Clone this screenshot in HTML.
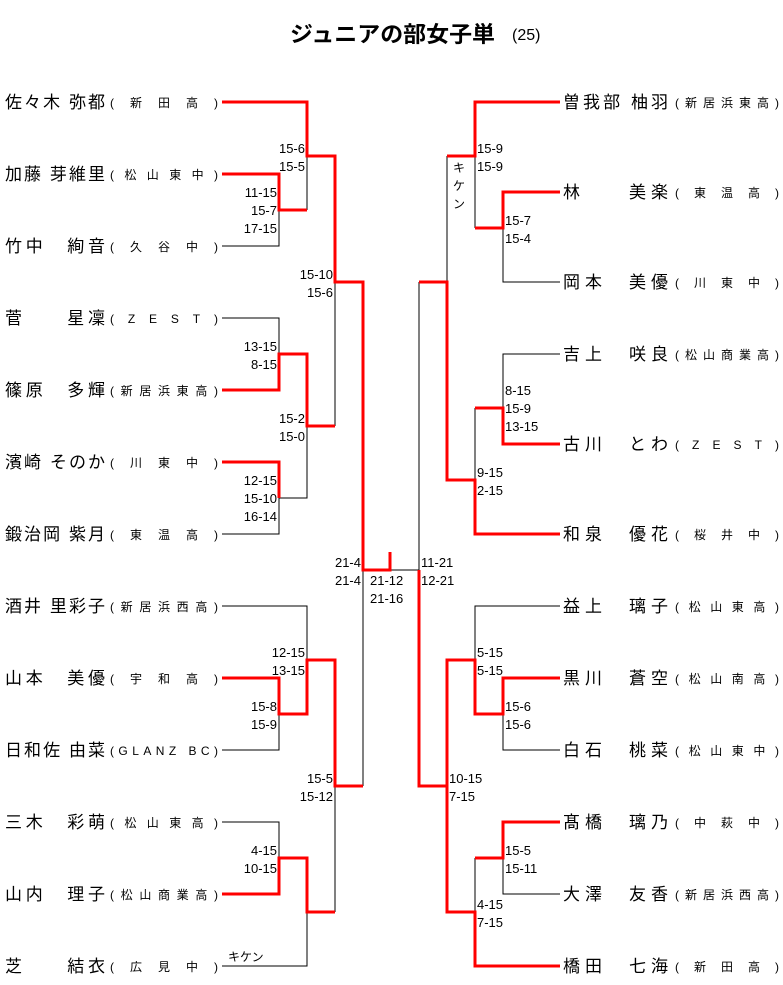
<!DOCTYPE html>
<html><head><meta charset="utf-8"><style>
html,body{margin:0;padding:0;background:#fff;}
svg{display:block;}
text{font-family:"Liberation Sans","Noto Sans CJK JP",sans-serif;fill:#000;}
.n{font-size:17px;}
.s{font-size:12px;}
.sc{font-size:13px;}
</style></head><body>
<svg width="783" height="985" viewBox="0 0 783 985" xmlns="http://www.w3.org/2000/svg">
<text x="290" y="42" style="font-size:22px;font-weight:bold" textLength="205" lengthAdjust="spacingAndGlyphs">ジュニアの部女子単</text>
<text x="512" y="40" style="font-size:16px">(25)</text>

<g fill="none" stroke="#000" stroke-width="1">
<path d="M222 246H279V210"/>
<path d="M307 156V210"/>
<path d="M222 318H279V354"/>
<path d="M222 534H279V498H307V426"/>
<path d="M335 282V426"/>
<path d="M222 606H307V660"/>
<path d="M222 750H279V714"/>
<path d="M222 822H279V858"/>
<path d="M222 966H307V912"/>
<path d="M335 786V912"/>
<path d="M363 570V786"/>
<path d="M390 570H419V282"/>
<path d="M475 156V228"/>
<path d="M560 282H503V228"/>
<path d="M447 156V282"/>
<path d="M560 354H503V408"/>
<path d="M475 408V480"/>
<path d="M560 606H475V660"/>
<path d="M560 750H503V714"/>
<path d="M560 894H503V858"/>
<path d="M475 858V912"/>
<path d="M447 786V912"/>
</g>
<g fill="none" stroke="#f00" stroke-width="3">
<path d="M222 102H307V156H335V282H363V570H390V552"/>
<path d="M222 174H279V210H307"/>
<path d="M222 390H279V354H307V426H335"/>
<path d="M222 462H279V498"/>
<path d="M222 678H279V714H307V660H335V786H363"/>
<path d="M222 894H279V858H307V912H335"/>
<path d="M560 102H475V156H447"/>
<path d="M560 192H503V228H475"/>
<path d="M419 282H447V480H475V534H560"/>
<path d="M560 444H503V408H475"/>
<path d="M419 570V786H447V660H475V714H503V678H560"/>
<path d="M560 822H503V858H475"/>
<path d="M447 786V912H475V966H560"/>
</g>

<g class="n">
<text x="5" y="108" textLength="100" lengthAdjust="spacing">佐々木 弥都</text>
<text x="5" y="180" textLength="100" lengthAdjust="spacing">加藤 芽維里</text>
<text x="5" y="252" textLength="100" lengthAdjust="spacing">竹中　絢音</text>
<text x="5" y="324" textLength="100" lengthAdjust="spacing">菅　　星凜</text>
<text x="5" y="396" textLength="100" lengthAdjust="spacing">篠原　多輝</text>
<text x="5" y="468" textLength="100" lengthAdjust="spacing">濱崎 そのか</text>
<text x="5" y="540" textLength="100" lengthAdjust="spacing">鍛治岡 紫月</text>
<text x="5" y="612" textLength="100" lengthAdjust="spacing">酒井 里彩子</text>
<text x="5" y="684" textLength="100" lengthAdjust="spacing">山本　美優</text>
<text x="5" y="756" textLength="100" lengthAdjust="spacing">日和佐 由菜</text>
<text x="5" y="828" textLength="100" lengthAdjust="spacing">三木　彩萌</text>
<text x="5" y="900" textLength="100" lengthAdjust="spacing">山内　理子</text>
<text x="5" y="972" textLength="100" lengthAdjust="spacing">芝　　結衣</text>
</g>
<g class="s">
<text x="110" y="107" textLength="108" lengthAdjust="spacing">(新田高)</text>
<text x="110" y="179" textLength="108" lengthAdjust="spacing">(松山東中)</text>
<text x="110" y="251" textLength="108" lengthAdjust="spacing">(久谷中)</text>
<text x="110" y="323" textLength="108" lengthAdjust="spacing">(ZEST)</text>
<text x="110" y="395" textLength="108" lengthAdjust="spacing">(新居浜東高)</text>
<text x="110" y="467" textLength="108" lengthAdjust="spacing">(川東中)</text>
<text x="110" y="539" textLength="108" lengthAdjust="spacing">(東温高)</text>
<text x="110" y="611" textLength="108" lengthAdjust="spacing">(新居浜西高)</text>
<text x="110" y="683" textLength="108" lengthAdjust="spacing">(宇和高)</text>
<text x="110" y="755" textLength="108" lengthAdjust="spacing">(GLANZ BC)</text>
<text x="110" y="827" textLength="108" lengthAdjust="spacing">(松山東高)</text>
<text x="110" y="899" textLength="108" lengthAdjust="spacing">(松山商業高)</text>
<text x="110" y="971" textLength="108" lengthAdjust="spacing">(広見中)</text>
</g>
<g class="n">
<text x="563" y="108" textLength="105" lengthAdjust="spacing">曽我部 柚羽</text>
<text x="563" y="198" textLength="105" lengthAdjust="spacing">林　　美楽</text>
<text x="563" y="288" textLength="105" lengthAdjust="spacing">岡本　美優</text>
<text x="563" y="360" textLength="105" lengthAdjust="spacing">吉上　咲良</text>
<text x="563" y="450" textLength="105" lengthAdjust="spacing">古川　とわ</text>
<text x="563" y="540" textLength="105" lengthAdjust="spacing">和泉　優花</text>
<text x="563" y="612" textLength="105" lengthAdjust="spacing">益上　璃子</text>
<text x="563" y="684" textLength="105" lengthAdjust="spacing">黒川　蒼空</text>
<text x="563" y="756" textLength="105" lengthAdjust="spacing">白石　桃菜</text>
<text x="563" y="828" textLength="105" lengthAdjust="spacing">髙橋　璃乃</text>
<text x="563" y="900" textLength="105" lengthAdjust="spacing">大澤　友香</text>
<text x="563" y="972" textLength="105" lengthAdjust="spacing">橋田　七海</text>
</g>
<g class="s">
<text x="675" y="107" textLength="104" lengthAdjust="spacing">(新居浜東高)</text>
<text x="675" y="197" textLength="104" lengthAdjust="spacing">(東温高)</text>
<text x="675" y="287" textLength="104" lengthAdjust="spacing">(川東中)</text>
<text x="675" y="359" textLength="104" lengthAdjust="spacing">(松山商業高)</text>
<text x="675" y="449" textLength="104" lengthAdjust="spacing">(ZEST)</text>
<text x="675" y="539" textLength="104" lengthAdjust="spacing">(桜井中)</text>
<text x="675" y="611" textLength="104" lengthAdjust="spacing">(松山東高)</text>
<text x="675" y="683" textLength="104" lengthAdjust="spacing">(松山南高)</text>
<text x="675" y="755" textLength="104" lengthAdjust="spacing">(松山東中)</text>
<text x="675" y="827" textLength="104" lengthAdjust="spacing">(中萩中)</text>
<text x="675" y="899" textLength="104" lengthAdjust="spacing">(新居浜西高)</text>
<text x="675" y="971" textLength="104" lengthAdjust="spacing">(新田高)</text>
</g>

<g class="sc" text-anchor="end">
<text x="305" y="153">15-6</text><text x="305" y="171">15-5</text>
<text x="277" y="197">11-15</text><text x="277" y="215">15-7</text><text x="277" y="233">17-15</text>
<text x="333" y="279">15-10</text><text x="333" y="297">15-6</text>
<text x="277" y="351">13-15</text><text x="277" y="369">8-15</text>
<text x="305" y="423">15-2</text><text x="305" y="441">15-0</text>
<text x="277" y="485">12-15</text><text x="277" y="503">15-10</text><text x="277" y="521">16-14</text>
<text x="361" y="567">21-4</text><text x="361" y="585">21-4</text>
<text x="305" y="657">12-15</text><text x="305" y="675">13-15</text>
<text x="277" y="711">15-8</text><text x="277" y="729">15-9</text>
<text x="333" y="783">15-5</text><text x="333" y="801">15-12</text>
<text x="277" y="855">4-15</text><text x="277" y="873">10-15</text>
</g>
<g class="sc">
<text x="370" y="585">21-12</text><text x="370" y="603">21-16</text>
<text x="228" y="961" style="font-size:12px">キケン</text>
<text x="477" y="153">15-9</text><text x="477" y="171">15-9</text>
<text x="505" y="225">15-7</text><text x="505" y="243">15-4</text>
<text x="505" y="395">8-15</text><text x="505" y="413">15-9</text><text x="505" y="431">13-15</text>
<text x="477" y="477">9-15</text><text x="477" y="495">2-15</text>
<text x="421" y="567">11-21</text><text x="421" y="585">12-21</text>
<text x="477" y="657">5-15</text><text x="477" y="675">5-15</text>
<text x="505" y="711">15-6</text><text x="505" y="729">15-6</text>
<text x="449" y="783">10-15</text><text x="449" y="801">7-15</text>
<text x="505" y="855">15-5</text><text x="505" y="873">15-11</text>
<text x="477" y="909">4-15</text><text x="477" y="927">7-15</text>
<text x="453" y="172" style="font-size:12px">キ</text>
<text x="453" y="190" style="font-size:12px">ケ</text>
<text x="453" y="208" style="font-size:12px">ン</text>
</g>
</svg>
</body></html>
